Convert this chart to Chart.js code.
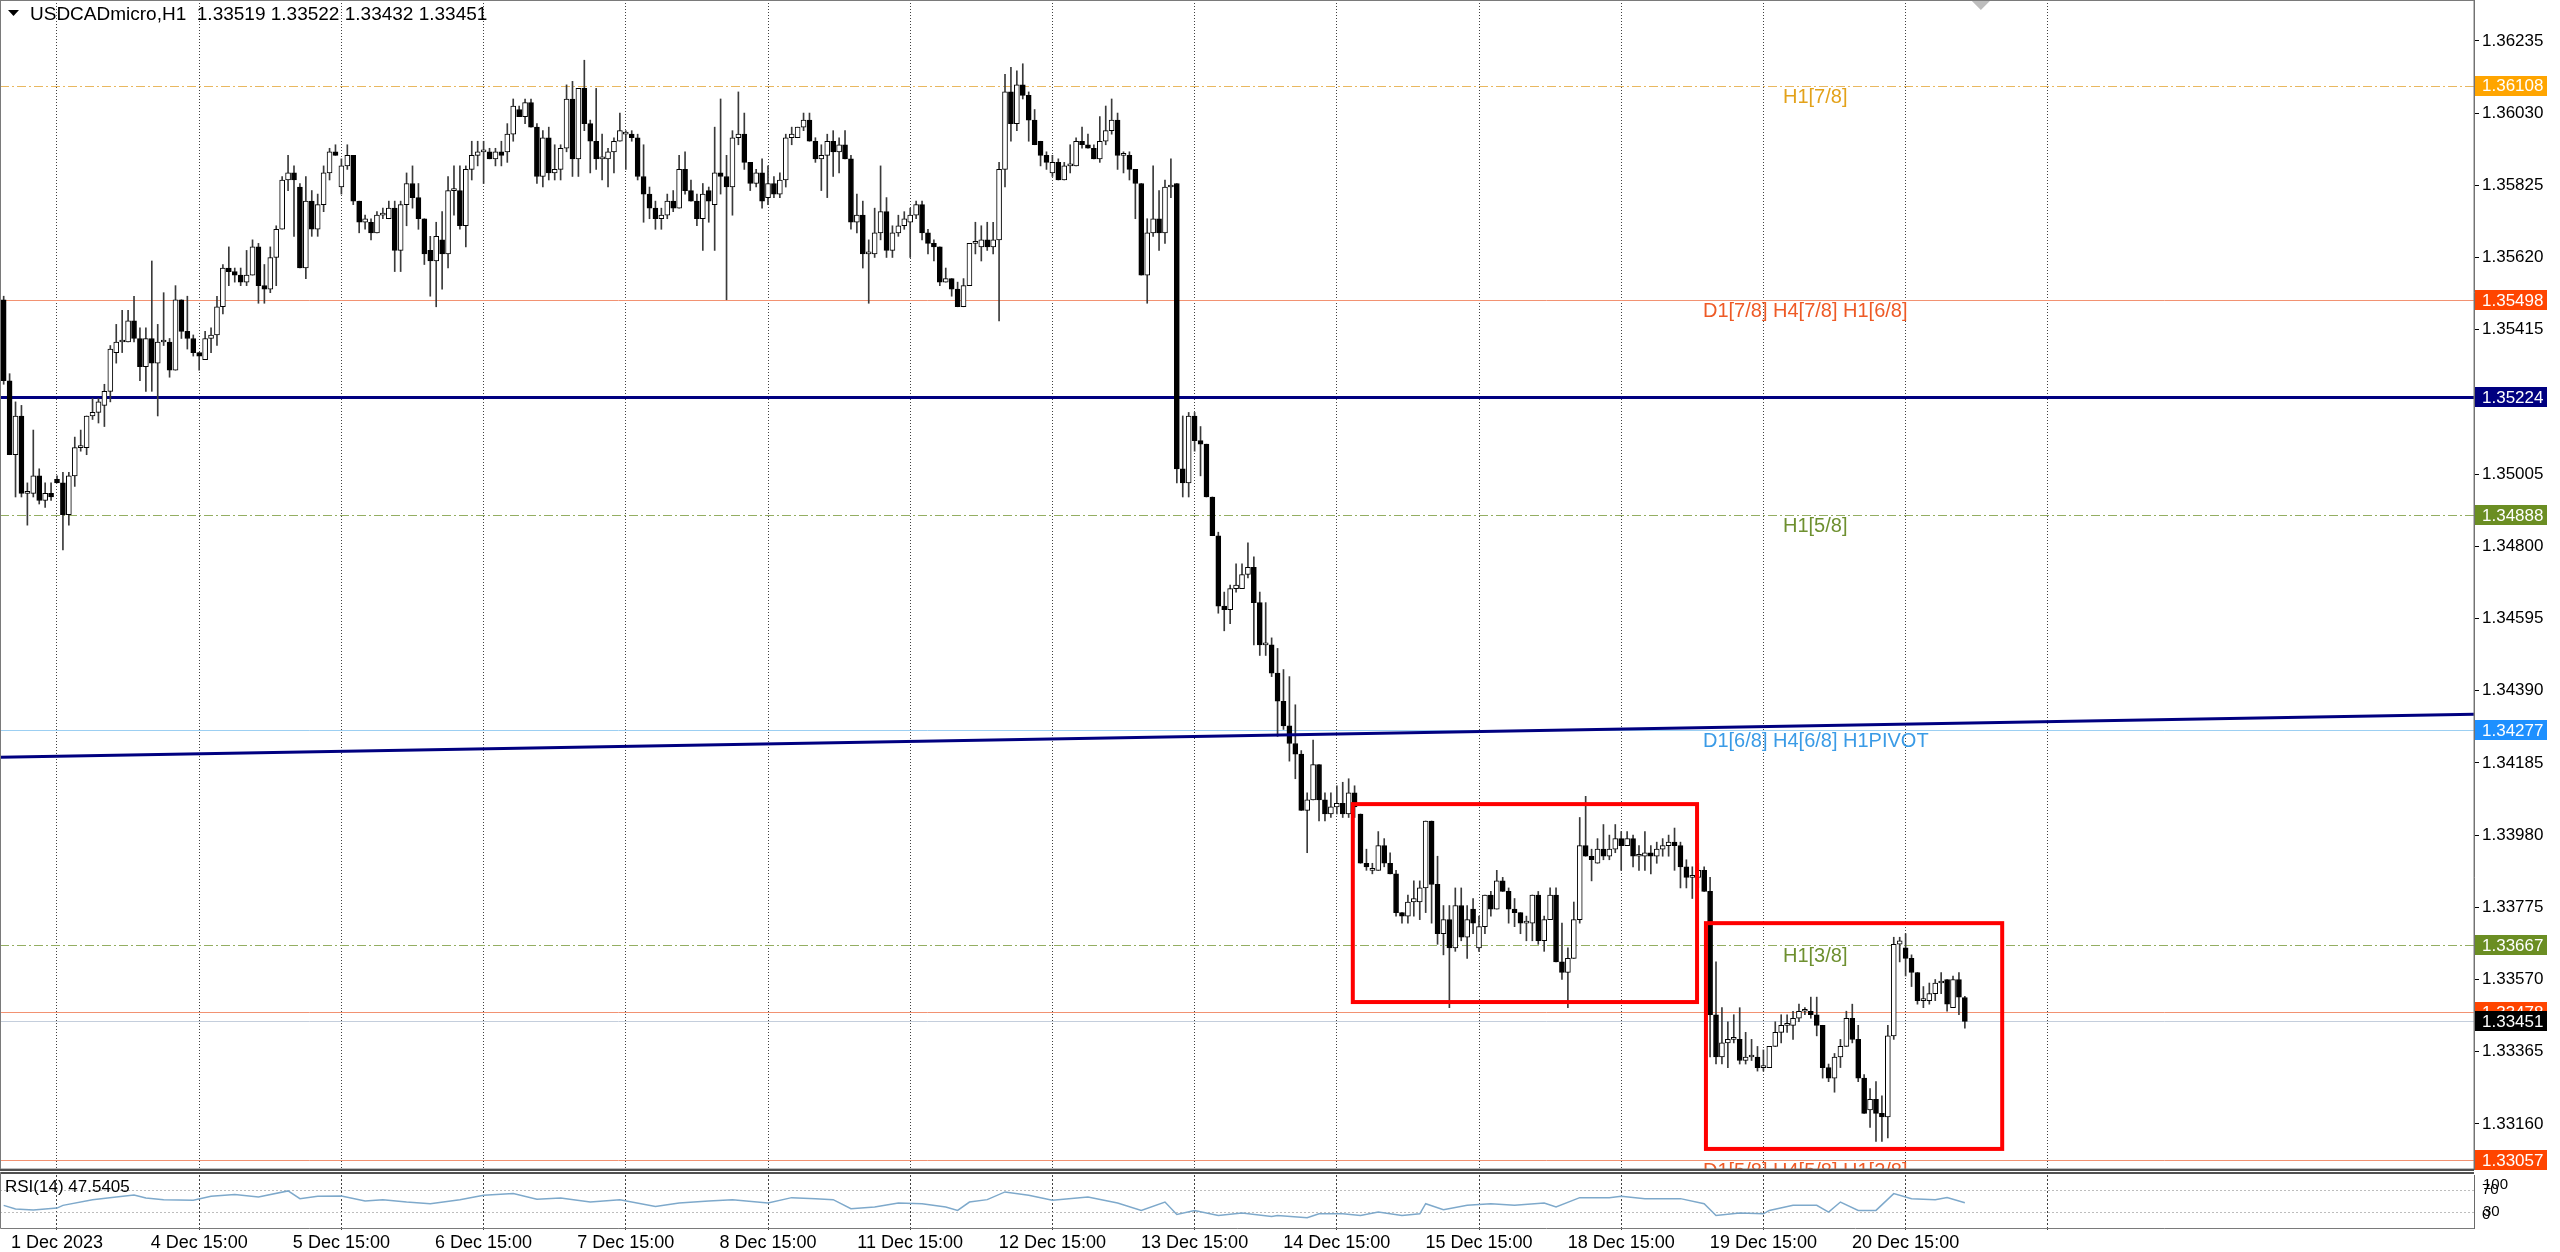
<!DOCTYPE html>
<html>
<head>
<meta charset="utf-8">
<title>USDCADmicro,H1</title>
<script src="https://cdn.jsdelivr.net/npm/chart.js@4.4.1/dist/chart.umd.min.js"></script>
<style>
  html, body { margin: 0; padding: 0; background: #fff; overflow: hidden; }
  #wrap { position: relative; width: 2560px; height: 1252px; }
  #main { position: absolute; left: 0; top: 0; }
  #rsi { position: absolute; left: 0; top: 1172px; }
</style>
</head>
<body>
<div id="wrap">
  <canvas id="main" width="2560" height="1172" style="width:2560px;height:1172px"></canvas>
  <canvas id="rsi" width="2560" height="80" style="width:2560px;height:80px"></canvas>
</div>
<script>
// H1 candles, 1 Dec 06:00 .. 21 Dec 01:00 (bar 9 = 1 Dec 15:00)
const opens = [
  1.3550,1.3527,1.3506,1.3517,1.3495,1.3495,1.3500,1.3493,1.3495,1.3499,
  1.3498,1.3489,1.3500,1.3508,1.3508,1.3517,1.3518,1.3520,1.3524,1.3535,
  1.3538,1.3538,1.3544,1.3539,1.3531,1.3539,1.3532,1.3538,1.3538,1.3530,
  1.3550,1.3541,1.3539,1.3535,1.3533,1.3539,1.3540,1.3548,1.3559,1.3558,
  1.3557,1.3555,1.3557,1.3565,1.3554,1.3553,1.3562,1.3570,1.3584,1.3586,
  1.3582,1.3559,1.3578,1.3570,1.3577,1.3586,1.3592,1.3582,1.3588,1.3591,
  1.3578,1.3572,1.3572,1.3569,1.3574,1.3573,1.3576,1.3564,1.3577,1.3583,
  1.3579,1.3573,1.3564,1.3561,1.3567,1.3563,1.3581,1.3581,1.3571,1.3587,
  1.3591,1.3592,1.3592,1.3590,1.3592,1.3592,1.3597,1.3604,1.3602,1.3606,
  1.3599,1.3585,1.3596,1.3586,1.3587,1.3593,1.3607,1.3590,1.3610,1.3600,
  1.3595,1.3590,1.3590,1.3592,1.3595,1.3597,1.3597,1.3596,1.3585,1.3580,
  1.3576,1.3573,1.3574,1.3578,1.3576,1.3587,1.3581,1.3578,1.3573,1.3581,
  1.3577,1.3586,1.3585,1.3582,1.3596,1.3597,1.3589,1.3583,1.3586,1.3579,
  1.3583,1.3580,1.3584,1.3596,1.3596,1.3599,1.3601,1.3595,1.3590,1.3591,
  1.3595,1.3592,1.3594,1.3590,1.3572,1.3574,1.3563,1.3563,1.3569,1.3575,
  1.3564,1.3569,1.3571,1.3572,1.3574,1.3577,1.3569,1.3566,1.3565,1.3555,
  1.3556,1.3553,1.3548,1.3554,1.3566,1.3565,1.3567,1.3565,1.3567,1.3587,
  1.3609,1.3600,1.3611,1.3608,1.3601,1.3595,1.3591,1.3586,1.3589,1.3584,
  1.3588,1.3588,1.3595,1.3594,1.3593,1.3590,1.3595,1.3598,1.3601,1.3591,
  1.3591,1.3587,1.3583,1.3557,1.3569,1.3573,1.3569,1.3582,1.3583,1.3502,
  1.3498,1.3517,1.3510,1.3509,1.3494,1.3483,1.3463,1.3462,1.3468,1.3468,
  1.3472,1.3474,1.3464,1.3452,1.3452,1.3444,1.3436,1.3429,1.3424,1.3421,
  1.3405,1.3408,1.3418,1.3408,1.3404,1.3406,1.3407,1.3404,1.3410,1.3404,
  1.3390,1.3388,1.3388,1.3395,1.3390,1.3387,1.3376,1.3375,1.3379,1.3379,
  1.3383,1.3402,1.3384,1.3370,1.3374,1.3366,1.3378,1.3369,1.3377,1.3366,
  1.3372,1.3381,1.3377,1.3385,1.3382,1.3377,1.3376,1.3373,1.3373,1.3381,
  1.3368,1.3374,1.3381,1.3362,1.3359,1.3363,1.3374,1.3395,1.3392,1.3390,
  1.3394,1.3392,1.3394,1.3397,1.3395,1.3397,1.3392,1.3392,1.3393,1.3392,
  1.3394,1.3395,1.3396,1.3395,1.3389,1.3386,1.3386,1.3388,1.3382,1.3347,
  1.3335,1.3339,1.3340,1.3340,1.3334,1.3335,1.3335,1.3332,1.3332,1.3338,
  1.3342,1.3344,1.3344,1.3346,1.3348,1.3348,1.3347,1.3344,1.3332,1.3329,
  1.3335,1.3338,1.3346,1.3340,1.3329,1.3320,1.3323,1.3319,1.3318,1.3341,
  1.3367,1.3366,1.3363,1.3359,1.3351,1.3351,1.3353,1.3356,1.3357,1.3349,
  1.3357,1.33519
];
const highs = [
  1.3551,1.3529,1.3521,1.3520,1.3498,1.3513,1.3502,1.3498,1.3498,1.3500,
  1.3501,1.3501,1.3511,1.3513,1.3517,1.3522,1.3522,1.3526,1.3537,1.3543,
  1.3547,1.3547,1.3551,1.3542,1.3542,1.3561,1.3543,1.3552,1.3539,1.3554,
  1.3550,1.3551,1.3540,1.3535,1.3541,1.3542,1.3551,1.3560,1.3565,1.3559,
  1.3559,1.3564,1.3567,1.3566,1.3560,1.3565,1.3571,1.3585,1.3591,1.3588,
  1.3583,1.3585,1.3581,1.3580,1.3588,1.3593,1.3594,1.3590,1.3594,1.3591,
  1.3578,1.3574,1.3573,1.3575,1.3576,1.3578,1.3578,1.3578,1.3586,1.3588,
  1.3583,1.3573,1.3568,1.3572,1.3575,1.3585,1.3588,1.3588,1.3588,1.3595,
  1.3595,1.3595,1.3593,1.3593,1.3595,1.3600,1.3607,1.3605,1.3607,1.3607,
  1.3600,1.3598,1.3599,1.3594,1.3594,1.3611,1.3612,1.3610,1.3618,1.3601,
  1.3610,1.3597,1.3593,1.3596,1.3603,1.3598,1.3598,1.3597,1.3594,1.3582,
  1.3578,1.3576,1.3580,1.3581,1.3591,1.3592,1.3584,1.3580,1.3583,1.3582,
  1.3599,1.3607,1.3591,1.3598,1.3609,1.3603,1.3589,1.3587,1.3590,1.3588,
  1.3585,1.3586,1.3597,1.3599,1.3599,1.3603,1.3603,1.3596,1.3594,1.3597,
  1.3598,1.3596,1.3598,1.3591,1.3580,1.3578,1.3567,1.3576,1.3588,1.3579,
  1.3571,1.3574,1.3575,1.3576,1.3578,1.3578,1.3570,1.3567,1.3565,1.3559,
  1.3556,1.3555,1.3556,1.3566,1.3572,1.3571,1.3572,1.3572,1.3589,1.3614,
  1.3616,1.3615,1.3617,1.3609,1.3604,1.3595,1.3592,1.3591,1.3590,1.3589,
  1.3594,1.3596,1.3599,1.3597,1.3594,1.3602,1.3605,1.3607,1.3603,1.3592,
  1.3592,1.3587,1.3583,1.3573,1.3588,1.3581,1.3584,1.3590,1.3583,1.3517,
  1.3518,1.3518,1.3514,1.3509,1.3494,1.3484,1.3467,1.3469,1.3475,1.3475,
  1.3481,1.3477,1.3467,1.3464,1.3454,1.3451,1.3445,1.3443,1.3435,1.3422,
  1.3410,1.3425,1.3418,1.3410,1.3410,1.3412,1.3413,1.3414,1.3412,1.3404,
  1.3394,1.3390,1.3399,1.3397,1.3393,1.3388,1.3376,1.3381,1.3385,1.3385,
  1.3402,1.3402,1.3392,1.3378,1.3378,1.3383,1.3383,1.3378,1.3380,1.3375,
  1.3381,1.3382,1.3388,1.3386,1.3383,1.3380,1.3376,1.3375,1.3381,1.3382,
  1.3375,1.3383,1.3383,1.3373,1.3366,1.3379,1.3403,1.3409,1.3394,1.3397,
  1.3401,1.3398,1.3401,1.3399,1.3399,1.3398,1.3395,1.3399,1.3395,1.3396,
  1.3397,1.3398,1.3400,1.3396,1.3391,1.3389,1.3390,1.3389,1.3386,1.3362,
  1.3349,1.3345,1.3347,1.3349,1.3342,1.3340,1.3338,1.3337,1.3338,1.3345,
  1.3347,1.3347,1.3348,1.3350,1.3349,1.3352,1.3352,1.3344,1.3333,1.3336,
  1.3340,1.3348,1.3350,1.3344,1.3330,1.3326,1.3328,1.3324,1.3344,1.3369,
  1.3369,1.3370,1.3364,1.3359,1.3355,1.3356,1.3357,1.3359,1.3357,1.3358,
  1.3359,1.33522
];
const lows = [
  1.3526,1.3506,1.3494,1.3494,1.3486,1.3494,1.3492,1.3491,1.3493,1.3498,
  1.3479,1.3486,1.3497,1.3507,1.3506,1.3516,1.3515,1.3514,1.3521,1.3532,
  1.3535,1.3538,1.3538,1.3527,1.3524,1.3524,1.3517,1.3537,1.3528,1.3530,
  1.3539,1.3536,1.3534,1.3530,1.3533,1.3535,1.3537,1.3546,1.3554,1.3555,
  1.3554,1.3554,1.3557,1.3549,1.3549,1.3552,1.3554,1.3570,1.3581,1.3568,
  1.3559,1.3556,1.3568,1.3568,1.3575,1.3584,1.3591,1.3580,1.3587,1.3577,
  1.3569,1.3570,1.3567,1.3569,1.3573,1.3573,1.3558,1.3558,1.3571,1.3576,
  1.3570,1.3560,1.3551,1.3548,1.3553,1.3559,1.3574,1.3570,1.3565,1.3584,
  1.3588,1.3583,1.3590,1.3588,1.3588,1.3589,1.3595,1.3602,1.3600,1.3599,
  1.3583,1.3582,1.3584,1.3584,1.3584,1.3592,1.3585,1.3585,1.3598,1.3586,
  1.3587,1.3584,1.3582,1.3586,1.3595,1.3587,1.3595,1.3584,1.3572,1.3573,
  1.3570,1.3570,1.3573,1.3575,1.3576,1.3580,1.3578,1.3571,1.3564,1.3572,
  1.3564,1.3580,1.3550,1.3574,1.3594,1.3587,1.3581,1.3582,1.3576,1.3577,
  1.3579,1.3579,1.3582,1.3594,1.3596,1.3598,1.3595,1.3589,1.3581,1.3579,
  1.3585,1.3586,1.3590,1.3570,1.3569,1.3559,1.3549,1.3562,1.3567,1.3562,
  1.3562,1.3568,1.3570,1.3562,1.3573,1.3567,1.3563,1.3561,1.3554,1.3555,
  1.3551,1.3548,1.3548,1.3554,1.3563,1.3561,1.3564,1.3563,1.3544,1.3582,
  1.3595,1.3598,1.3607,1.3595,1.3594,1.3588,1.3587,1.3585,1.3584,1.3584,
  1.3586,1.3588,1.3593,1.3593,1.3590,1.3589,1.3594,1.3597,1.3587,1.3586,
  1.3584,1.3573,1.3557,1.3549,1.3568,1.3564,1.3566,1.3579,1.3498,1.3494,
  1.3494,1.3507,1.3500,1.3494,1.3483,1.3461,1.3456,1.3458,1.3467,1.3468,
  1.3471,1.3452,1.3449,1.3449,1.3443,1.3426,1.3428,1.3419,1.3414,1.3405,
  1.3393,1.3408,1.3402,1.3402,1.3403,1.3404,1.3403,1.3403,1.3403,1.3390,
  1.3388,1.3387,1.3388,1.3389,1.3387,1.3375,1.3373,1.3373,1.3375,1.3374,
  1.3376,1.3373,1.3367,1.3364,1.3349,1.3365,1.3368,1.3363,1.3370,1.3365,
  1.3370,1.3375,1.3377,1.3382,1.3373,1.3372,1.3370,1.3368,1.3368,1.3367,
  1.3365,1.3374,1.3362,1.3357,1.3349,1.3363,1.3373,1.3392,1.3385,1.3390,
  1.3391,1.3391,1.3393,1.3388,1.3395,1.3389,1.3388,1.3388,1.3387,1.3390,
  1.3392,1.3392,1.3388,1.3383,1.3383,1.3380,1.3383,1.3382,1.3335,1.3333,
  1.3333,1.3332,1.3339,1.3333,1.3333,1.3334,1.3331,1.3331,1.3332,1.3338,
  1.3339,1.3342,1.3340,1.3345,1.3347,1.3346,1.3341,1.3329,1.3328,1.3325,
  1.3332,1.3338,1.3339,1.3328,1.3319,1.3315,1.3311,1.3311,1.3312,1.3340,
  1.3362,1.3358,1.3355,1.3350,1.3349,1.3350,1.3351,1.3353,1.3348,1.3349,
  1.3347,1.33432
];
const closes = [
  1.3527,1.3506,1.3517,1.3495,1.3495,1.3500,1.3493,1.3495,1.3494,1.3498,
  1.3489,1.3500,1.3508,1.3508,1.3517,1.3518,1.3521,1.3524,1.3536,1.3538,
  1.3538,1.3544,1.3539,1.3531,1.3539,1.3532,1.3538,1.3538,1.3530,1.3550,
  1.3541,1.3539,1.3535,1.3534,1.3539,1.3540,1.3548,1.3559,1.3558,1.3557,
  1.3555,1.3557,1.3565,1.3554,1.3553,1.3562,1.3570,1.3584,1.3586,1.3584,
  1.3559,1.3578,1.3570,1.3577,1.3586,1.3592,1.3591,1.3588,1.3591,1.3578,
  1.3572,1.3573,1.3569,1.3574,1.3574,1.3576,1.3564,1.3577,1.3583,1.3579,
  1.3573,1.3563,1.3561,1.3568,1.3563,1.3581,1.3581,1.3571,1.3587,1.3591,
  1.3592,1.3592,1.3590,1.3592,1.3591,1.3597,1.3605,1.3602,1.3606,1.3599,
  1.3585,1.3596,1.3586,1.3587,1.3593,1.3607,1.3590,1.3610,1.3600,1.3595,
  1.3590,1.3590,1.3592,1.3595,1.3598,1.3597,1.3596,1.3585,1.3580,1.3576,
  1.3573,1.3574,1.3578,1.3576,1.3587,1.3581,1.3578,1.3573,1.3580,1.3578,
  1.3586,1.3585,1.3582,1.3596,1.3597,1.3589,1.3583,1.3586,1.3578,1.3583,
  1.3580,1.3584,1.3596,1.3597,1.3599,1.3601,1.3595,1.3590,1.3591,1.3595,
  1.3592,1.3594,1.3590,1.3572,1.3574,1.3563,1.3563,1.3569,1.3575,1.3564,
  1.3569,1.3571,1.3573,1.3574,1.3577,1.3569,1.3566,1.3565,1.3555,1.3556,
  1.3553,1.3548,1.3554,1.3566,1.3566,1.3567,1.3565,1.3567,1.3587,1.3609,
  1.3600,1.3611,1.3608,1.3601,1.3594,1.3591,1.3589,1.3589,1.3584,1.3588,
  1.3588,1.3595,1.3594,1.3593,1.3590,1.3595,1.3598,1.3601,1.3591,1.3591,
  1.3587,1.3583,1.3557,1.3569,1.3573,1.3569,1.3582,1.3582,1.3502,1.3498,
  1.3517,1.3510,1.3509,1.3494,1.3483,1.3463,1.3462,1.3468,1.3469,1.3472,
  1.3474,1.3464,1.3452,1.3452,1.3444,1.3436,1.3429,1.3424,1.3421,1.3405,
  1.3408,1.3418,1.3408,1.3404,1.3406,1.3407,1.3404,1.3410,1.3406,1.3390,
  1.3389,1.3388,1.3395,1.3390,1.3387,1.3376,1.3375,1.3379,1.3380,1.3383,
  1.3402,1.3384,1.3370,1.3374,1.3366,1.3378,1.3369,1.3374,1.3373,1.3372,
  1.3381,1.3377,1.3385,1.3382,1.3377,1.3376,1.3373,1.3373,1.3381,1.3368,
  1.3374,1.3381,1.3362,1.3359,1.3363,1.3374,1.3395,1.3392,1.3391,1.3394,
  1.3392,1.3394,1.3397,1.3395,1.3397,1.3392,1.3392,1.3393,1.3392,1.3394,
  1.3395,1.3396,1.3395,1.3389,1.3386,1.3386,1.3388,1.3382,1.3347,1.3335,
  1.3339,1.3340,1.3340,1.3334,1.3335,1.3335,1.3332,1.3332,1.3338,1.3342,
  1.3344,1.3344,1.3346,1.3348,1.3348,1.3347,1.3344,1.3332,1.3329,1.3335,
  1.3338,1.3346,1.3340,1.3329,1.3319,1.3323,1.3319,1.3318,1.3341,1.3367,
  1.3368,1.3363,1.3359,1.3351,1.3351,1.3353,1.3356,1.3356,1.3350,1.3357,
  1.3352,1.33451
];

// RSI(14) (bar index, value)
const rsiBars = [0,2,5,9,10,15,19,22,24,27,32,35,39,43,48,50,53,57,61,64,68,72,77,81,86,90,94,99,104,110,
  114,119,123,129,133,137,140,143,147,151,155,159,161,163,166,169,173,177,183,188,192,196,198,201,205,209,214,215,220,222,
  226,229,232,236,239,240,243,247,251,255,260,262,266,271,273,277,283,287,289,293,297,298,302,306,308,310,313,316,319,322,
  326,328,331];
const rsiValues = [42.7,36,34,37.6,42.7,53.5,58.6,62.4,56.7,53.5,52.2,59.8,63,58.6,70,55.4,59.8,60.5,51,53.5,49,45.9,53.5,61.7,64.9,54.1,56.7,49,53.5,40.8,
  47.1,51,53.5,47.1,57.3,55.4,53.5,36.3,39.5,47.1,45.9,39.5,33.2,49,53.5,68.1,61.7,52.2,58.6,47.1,33.2,49,25.6,33.2,23.6,28.1,21.7,23.6,19.2,26.8,
  26.8,23.6,30,23.6,26.8,45.9,34.4,42.7,45.9,42.7,47.1,39.5,57.3,57.3,59.8,55.4,55.4,45.9,23.6,28.1,26.8,33.2,42.7,42.7,30,49,33.2,33.2,64.9,55.4,
  53.5,57.3,47.54];
const rsiLevels = [30, 70];
const rsiTitle = 'RSI(14) 47.5405';

// axes
const priceTicks = [1.36235,1.36030,1.35825,1.35620,1.35415,1.35210,1.35005,1.34800,1.34595,1.34390,1.34185,1.33980,1.33775,1.33570,1.33365,1.33160];
const timeLabels = ['1 Dec 2023','4 Dec 15:00','5 Dec 15:00','6 Dec 15:00','7 Dec 15:00','8 Dec 15:00','11 Dec 15:00',
  '12 Dec 15:00','13 Dec 15:00','14 Dec 15:00','15 Dec 15:00','18 Dec 15:00','19 Dec 15:00','20 Dec 15:00'];
const firstLabelBar = 9;
const barsPerDay = 24;
const xMin = -0.62, xMax = 416.93;
const yMin = 1.33032, yMax = 1.36351;
const title = 'USDCADmicro,H1  1.33519 1.33522 1.33432 1.33451';

// horizontal levels
const levels = [1.36108, 1.35498, 1.35224, 1.34888, 1.34277, 1.33667, 1.33478, 1.33451, 1.33057];
const levelText = ['H1[7/8]', 'D1[7/8] H4[7/8] H1[6/8]', '', 'H1[5/8]', 'D1[6/8] H4[6/8] H1PIVOT', 'H1[3/8]', '', '', 'D1[5/8] H4[5/8] H1[2/8]'];
const levelTextBar = [300.3, 286.8, 0, 300.3, 286.8, 300.3, 0, 0, 286.8];
const levelTextColor = ['#E3A21A', '#EE5A26', '', '#6E9030', '#3A9BE6', '#6E9030', '', '', '#EE5A26'];
const levelLine = ['#E9B860', '#F29272', '#000080', '#94AE62', '#9CCFF2', '#94AE62', '#F29272', '#C4CEDC', '#F29272'];
const levelWidth = [1, 1, 3, 1, 1, 1, 1, 1, 1];
const levelDashed = [true, false, false, true, false, true, false, false, false];
const levelBox = ['#FFA500', '#FF4500', '#000080', '#6B8E23', '#1E90FF', '#6B8E23', '#FF4500', '#000000', '#FF4500'];

// trend line and boxes drawn on the chart
const trendBars = [xMin, xMax];
const trendPrices = [1.34201, 1.34323];
const boxStartBar = [227.7, 287.3];
const boxEndBar = [285.8, 337.3];
const boxHigh = [1.34068, 1.33730];
const boxLow = [1.33506, 1.33089];
const shiftMarkBar = 333.7;

const FONT = '"Liberation Sans", Arial, sans-serif';
const tickBars = [];
for (let k = 0; k <= timeLabels.length; k++) tickBars.push(firstLabelBar + k * barsPerDay);

const idx = closes.map((_, i) => i);
const wickData = idx.map(i => ({ x: i, y: [lows[i], highs[i]] }));
const bodyData = idx.map(i => ({ x: i, y: [Math.min(opens[i], closes[i]), Math.max(opens[i], closes[i])] }));
const bodyFill = idx.map(i => closes[i] >= opens[i] ? '#ffffff' : '#000000');

// keep the plot area flush with the canvas edges
const noPad = s => { s.paddingTop = 0; s.paddingBottom = 0; s.paddingLeft = 0; s.paddingRight = 0; };

const levelsPlugin = {
  id: 'levels',
  beforeDatasetsDraw(chart) {
    const { ctx, chartArea: a, scales: { x, y } } = chart;
    ctx.save();
    ctx.beginPath();
    ctx.rect(a.left, a.top, a.right - a.left, a.bottom - a.top);
    ctx.clip();
    levels.forEach((v, k) => {
      const py = Math.round(y.getPixelForValue(v)) + (levelWidth[k] % 2 ? 0.5 : 0);
      ctx.strokeStyle = levelLine[k];
      ctx.lineWidth = levelWidth[k];
      ctx.setLineDash(levelDashed[k] ? [9, 3, 2, 3] : []);
      ctx.beginPath();
      ctx.moveTo(a.left, py);
      ctx.lineTo(a.right, py);
      ctx.stroke();
      if (levelText[k]) {
        ctx.fillStyle = levelTextColor[k];
        ctx.font = '20px ' + FONT;
        ctx.textBaseline = 'top';
        ctx.textAlign = 'left';
        ctx.fillText(levelText[k], x.getPixelForValue(levelTextBar[k]), py + 0.5);
      }
    });
    ctx.restore();
  },
  afterDatasetsDraw(chart) {
    const { ctx, scales: { x, y } } = chart;
    ctx.save();
    ctx.strokeStyle = '#FF0000';
    ctx.lineWidth = 4;
    boxStartBar.forEach((b, k) => {
      const x0 = x.getPixelForValue(b), x1 = x.getPixelForValue(boxEndBar[k]);
      const y0 = y.getPixelForValue(boxHigh[k]), y1 = y.getPixelForValue(boxLow[k]);
      ctx.strokeRect(x0, y0, x1 - x0, y1 - y0);
    });
    ctx.restore();
  },
  afterDraw(chart) {
    const { ctx, chartArea: a, scales: { x, y } } = chart;
    ctx.save();
    // panel frame
    ctx.strokeStyle = '#7a7a7a';
    ctx.lineWidth = 1;
    ctx.strokeRect(0.5, 0.5, a.right - 0.5, a.bottom - 0.5);
    ctx.strokeStyle = '#505050';
    ctx.lineWidth = 2;
    ctx.beginPath();
    ctx.moveTo(0, a.bottom + 1);
    ctx.lineTo(a.right, a.bottom + 1);
    ctx.stroke();
    // price boxes on the axis
    ctx.font = '17px ' + FONT;
    ctx.textBaseline = 'middle';
    ctx.textAlign = 'left';
    levels.forEach((v, k) => {
      const py = y.getPixelForValue(v);
      ctx.fillStyle = levelBox[k];
      ctx.fillRect(a.right + 1, Math.round(py) - 10, 72, 20);
      ctx.fillStyle = '#ffffff';
      ctx.fillText(v.toFixed(5), a.right + 8, py + 1);
    });
    // title
    ctx.fillStyle = '#000';
    ctx.beginPath();
    ctx.moveTo(8, 10);
    ctx.lineTo(19, 10);
    ctx.lineTo(13.5, 16);
    ctx.closePath();
    ctx.fill();
    ctx.font = '19px ' + FONT;
    ctx.fillText(title, 30, 15);
    // chart shift marker
    const sx = x.getPixelForValue(shiftMarkBar);
    ctx.fillStyle = '#BDBDBD';
    ctx.beginPath();
    ctx.moveTo(sx - 9, 1);
    ctx.lineTo(sx + 9, 1);
    ctx.lineTo(sx, 10);
    ctx.closePath();
    ctx.fill();
    ctx.restore();
  }
};

new Chart(document.getElementById('main'), {
  type: 'bar',
  data: {
    datasets: [
      { type: 'line', data: trendBars.map((b, k) => ({ x: b, y: trendPrices[k] })), borderColor: '#000080', borderWidth: 3, pointRadius: 0, order: 0 },
      { type: 'bar', data: bodyData, backgroundColor: bodyFill, borderColor: '#000', borderWidth: 1, borderSkipped: false,
        barThickness: 5, minBarLength: 2, grouped: false, order: 1 },
      { type: 'bar', data: wickData, backgroundColor: '#3a3a3a', barThickness: 1, grouped: false, order: 2 }
    ]
  },
  options: {
    responsive: false,
    animation: false,
    events: [],
    layout: { padding: { top: 0, left: 0, right: 0, bottom: 3 }, autoPadding: false },
    plugins: { legend: { display: false }, tooltip: { enabled: false } },
    scales: {
      x: {
        type: 'linear', min: xMin, max: xMax, offset: false, bounds: 'data',
        afterBuildTicks: s => { s.ticks = tickBars.map(v => ({ value: v })); },
        afterFit: s => { s.height = 0; noPad(s); },
        ticks: { display: false },
        grid: { color: '#404040', drawTicks: false, offset: false },
        border: { display: false, dash: [1, 2] }
      },
      y: {
        position: 'right', min: yMin, max: yMax, beginAtZero: false, bounds: 'data',
        afterBuildTicks: s => { s.ticks = priceTicks.map(v => ({ value: v })); },
        afterFit: s => { s.width = 86; noPad(s); },
        ticks: { color: '#000', padding: 3, font: { family: FONT, size: 17 }, callback: v => v.toFixed(5) },
        grid: { drawOnChartArea: false, tickLength: 5, tickColor: '#000' },
        border: { display: true, color: '#6a6a6a' }
      }
    }
  },
  plugins: [levelsPlugin]
});

const rsiPlugin = {
  id: 'rsiDecor',
  afterDraw(chart) {
    const { ctx, chartArea: a } = chart;
    ctx.save();
    ctx.strokeStyle = '#505050';
    ctx.lineWidth = 2;
    ctx.beginPath();
    ctx.moveTo(0, 1);
    ctx.lineTo(a.right, 1);
    ctx.stroke();
    ctx.strokeStyle = '#7a7a7a';
    ctx.lineWidth = 1;
    ctx.beginPath();
    ctx.moveTo(0.5, 0);
    ctx.lineTo(0.5, a.bottom + 0.5);
    ctx.lineTo(a.right, a.bottom + 0.5);
    ctx.stroke();
    ctx.fillStyle = '#000';
    ctx.textAlign = 'left';
    ctx.textBaseline = 'middle';
    ctx.font = '17px ' + FONT;
    ctx.fillText(rsiTitle, 5, a.top + 12);
    ctx.font = '15px ' + FONT;
    ctx.fillText('70', a.right + 8, 18);
    ctx.fillText('100', a.right + 9, 13);
    ctx.fillText('0', a.right + 8, 43);
    ctx.fillText('30', a.right + 9, 40);
    ctx.restore();
  }
};

new Chart(document.getElementById('rsi'), {
  type: 'line',
  data: {
    datasets: [{ data: rsiBars.map((b, k) => ({ x: b, y: rsiValues[k] })), borderColor: '#7EA9CB', borderWidth: 1.5, pointRadius: 0, tension: 0 }]
  },
  options: {
    responsive: false,
    animation: false,
    events: [],
    layout: { padding: { top: 3, left: 0, right: 0, bottom: 0 }, autoPadding: false },
    plugins: { legend: { display: false }, tooltip: { enabled: false } },
    scales: {
      x: {
        type: 'linear', min: xMin, max: xMax, offset: false, bounds: 'data',
        afterBuildTicks: s => { s.ticks = tickBars.map(v => ({ value: v })); },
        afterFit: s => { s.height = 24; noPad(s); },
        ticks: { autoSkip: false, maxRotation: 0, padding: 1, color: '#000', font: { family: FONT, size: 18 },
          callback: (v, k) => timeLabels[k] || '' },
        grid: { color: '#404040', tickLength: 3, tickColor: '#404040', tickBorderDash: [2, 2] },
        border: { display: false, dash: [2, 2] }
      },
      y: {
        position: 'right', min: 0, max: 100, bounds: 'data',
        afterBuildTicks: s => { s.ticks = rsiLevels.map(v => ({ value: v })); },
        afterFit: s => { s.width = 86; noPad(s); },
        ticks: { display: false },
        grid: { color: '#BDBDBD', drawTicks: false },
        border: { display: true, color: '#6a6a6a', dash: [2, 2] }
      }
    }
  },
  plugins: [rsiPlugin]
});
</script>
</body>
</html>
